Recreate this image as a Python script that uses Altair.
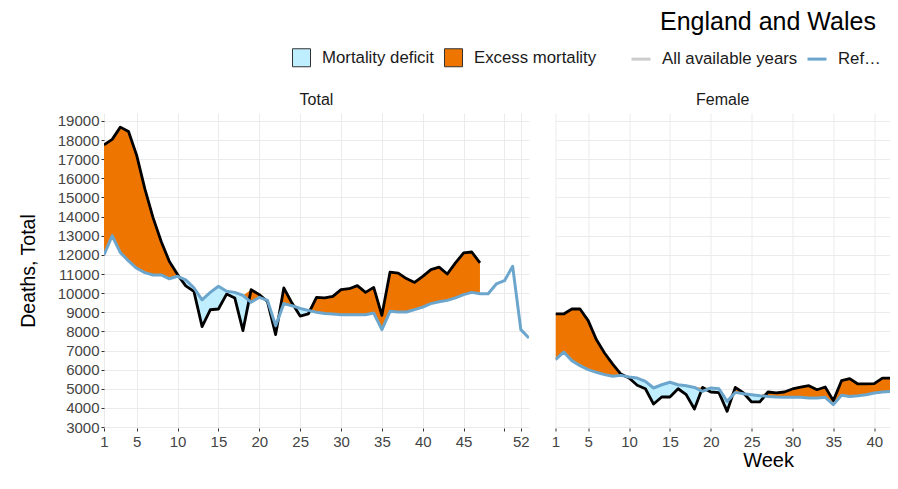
import altair as alt
import pandas as pd

FONT = "Liberation Sans"

weeks = list(range(1, 54))
total_observed = [17750, 18040, 18680, 18450, 17200, 15450, 13950, 12700, 11650, 10970,
                  10380, 10090, 8250, 9130, 9170, 9950, 9750, 8040, 10180, 9920,
                  9560, 7830, 10270, 9480, 8800, 8910, 9780, 9750, 9830, 10180,
                  10230, 10390, 10040, 10300, 8840, 11100, 11050, 10760, 10560, 10880,
                  11230, 11360, 11000, 11580, 12100, 12150, 11580]
total_reference = [12000, 13000, 12120, 11680, 11300, 11070, 10950, 10950, 10750, 10880,
                   10690, 10280, 9650, 10040, 10360, 10100, 10040, 9880, 9520, 9780,
                   9620, 8300, 9450, 9340, 9200, 9100, 9000, 8940, 8910, 8870,
                   8870, 8870, 8870, 8960, 8090, 9050, 9010, 9010, 9140, 9270,
                   9450, 9550, 9620, 9750, 9920, 10040, 9970, 9970, 10480, 10650,
                   11400, 8090, 7650]
female_observed = [8910, 8910, 9170, 9170, 8560, 7570, 6870, 6290, 5770, 5560,
                   5180, 5000, 4200, 4570, 4570, 5000, 4690, 3940, 5070, 4830,
                   4800, 3820, 5070, 4780, 4310, 4310, 4830, 4780, 4830, 4990,
                   5090, 5160, 4950, 5090, 4380, 5420, 5530, 5250, 5250, 5270,
                   5560, 5560, 5440]
female_reference = [6520, 6920, 6470, 6210, 6000, 5860, 5740, 5650, 5700, 5610,
                    5560, 5390, 5040, 5210, 5340, 5210, 5160, 5070, 4860, 5040,
                    5000, 4340, 4810, 4740, 4690, 4640, 4600, 4570, 4550, 4550,
                    4550, 4520, 4520, 4550, 4170, 4660, 4600, 4640, 4690, 4780,
                    4830, 4860, 4900]

fill_labels = ["Mortality deficit", "Excess mortality"]
fill_colors = ["#BFEFFF", "#EE7600"]
line_labels = ["All available years", "Reference period"]
line_colors = ["#CCCCCC", "#6CA6CD"]
y_ticks = list(range(3000, 20000, 1000))
total_x_ticks = [1, 5, 10, 15, 20, 25, 30, 35, 40, 45, 50, 52]
female_x_ticks = [1, 5, 10, 15, 20, 25, 30, 35, 40]

fill_scale = alt.Scale(domain=fill_labels, range=fill_colors)
stroke_scale = alt.Scale(domain=line_labels, range=line_colors)
y_scale = alt.Scale(domain=[2948, 19418], nice=False, zero=False)

fill_legend = alt.Legend(orient="none", legendX=188, legendY=-65, direction="horizontal",
                         title=None, symbolType="square", symbolSize=324,
                         symbolStrokeColor="#333333", symbolStrokeWidth=1,
                         labelFont=FONT, labelFontSize=16.8, labelColor="#1a1a1a",
                         labelOffset=11, columnPadding=8, padding=0)
stroke_legend = alt.Legend(orient="none", legendX=526, legendY=-65, direction="horizontal",
                           title=None, symbolType="stroke", symbolSize=361,
                           symbolStrokeWidth=3,
                           labelFont=FONT, labelFontSize=16.8, labelColor="#1a1a1a",
                           labelOffset=10, columnPadding=3, padding=0,
                           labelLimit={"expr": "datum.value === 'Reference period' ? 52 : 300"})


def panel(obs, ref, title, width, xmax, ticks, first):
    n = len(ref)
    df = pd.DataFrame({
        "week": weeks[:n],
        "reference": ref,
        "observed": list(obs) + [None] * (n - len(obs)),
    })
    x_axis = alt.Axis(values=ticks, labelExpr="datum.value == 50 ? '' : datum.label",
                      title=None if first else "Week", labelFlush=False, labelOverlap=False,
                      tickSize=3, labelPadding=3, titleFontSize=20,
                      titleX=212.5, titleY=32, titleBaseline="middle", titleAlign="center")
    if first:
        y_axis = alt.Axis(values=y_ticks, format="d", title="Deaths, Total", labelFlush=False,
                          labelOverlap=False, tickSize=3, labelPadding=2, titleFontSize=19.5,
                          titleX=-76, titleBaseline="middle")
    else:
        y_axis = alt.Axis(values=y_ticks, title=None, labels=False, ticks=False)
    xenc = alt.X("week:Q", scale=alt.Scale(domain=[1, xmax], nice=False, zero=False), axis=x_axis)
    base = alt.Chart(df)
    valid = base.transform_filter("isValid(datum.observed)")
    excess = valid.transform_calculate(
        top="max(datum.observed, datum.reference)", kind="'Excess mortality'"
    ).mark_area(clip=True).encode(
        x=xenc, y=alt.Y("top:Q", scale=y_scale, axis=y_axis), y2="reference:Q",
        fill=alt.Fill("kind:N", scale=fill_scale, legend=fill_legend))
    deficit = valid.transform_calculate(
        bottom="min(datum.observed, datum.reference)", kind="'Mortality deficit'"
    ).mark_area(clip=True).encode(
        x=xenc, y=alt.Y("reference:Q", scale=y_scale, axis=y_axis), y2="bottom:Q",
        fill=alt.Fill("kind:N", scale=fill_scale, legend=fill_legend))
    obs_line = valid.mark_line(clip=True, color="black", strokeWidth=2.8, strokeJoin="round").encode(
        x=xenc, y=alt.Y("observed:Q", scale=y_scale, axis=y_axis))
    ref_line = base.transform_calculate(series="'Reference period'").mark_line(
        clip=True, strokeWidth=3, strokeJoin="round").encode(
        x=xenc, y=alt.Y("reference:Q", scale=y_scale, axis=y_axis),
        stroke=alt.Stroke("series:N", scale=stroke_scale, legend=stroke_legend))
    return alt.layer(excess, deficit, obs_line, ref_line).properties(
        width=width, height=315,
        title=alt.TitleParams(title, fontSize=16, font=FONT, fontWeight="normal",
                              color="#1a1a1a", anchor="middle", offset=5))


total_panel = panel(total_observed, total_reference, "Total", 425, 53, total_x_ticks, True)
female_panel = panel(female_observed, female_reference, "Female", 334.5, 41.93, female_x_ticks, False)

chart = alt.hconcat(total_panel, female_panel, spacing=26.5, bounds="flush").resolve_scale(
    fill="shared", stroke="shared"
).properties(
    title=alt.TitleParams("England and Wales", fontSize=25, font=FONT, fontWeight="normal",
                          color="black", anchor="start", frame="group", dx=556, offset=13),
    padding={"left": 10, "top": 2, "right": 0, "bottom": 0},
    background="white",
).configure_view(stroke=None).configure_axis(
    gridColor="#EBEBEB", gridWidth=1, domain=False, tickColor="#333333",
    labelColor="#444444", labelFont=FONT, labelFontSize=15,
    titleFont=FONT, titleFontWeight="normal", titleColor="black",
)

chart.save("out.html", embed_options={"renderer": "svg", "actions": False})
